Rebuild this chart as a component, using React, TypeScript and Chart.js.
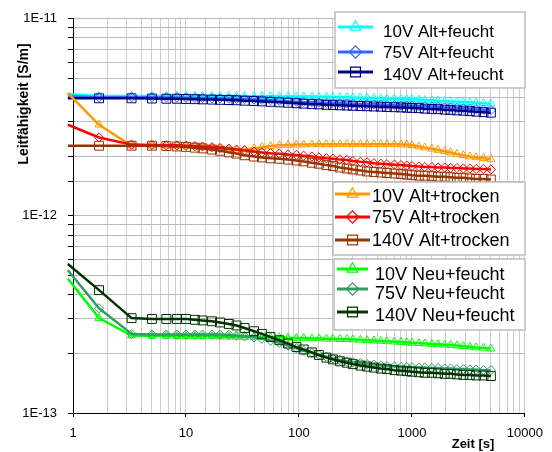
import React, { useEffect, useRef } from 'react';
import { Chart, registerables } from 'chart.js';

Chart.register(...registerables);

// Zeit [s]
const TIMES = [
  0.9, 1.7, 3.3, 5, 6.7, 8.3, 10,
  12, 14, 17, 20, 24, 28, 33,
  40, 47, 56, 67, 80, 95, 110,
  130, 150, 175, 200, 230, 265, 300,
  350, 400, 460, 530, 600, 700, 800,
  900, 1000, 1150, 1300, 1500, 1700, 1950,
  2200, 2500, 2850, 3250, 3700, 4300, 5000,
];

// Alt series in 1E-12 S/m
const ALT_FEUCHT_10V = [
  4.15, 4.06, 4.06, 4.06, 4.06, 4.06, 4.06,
  4.06, 4.06, 4.06, 4.06, 4.06, 4.05, 4.05,
  4.05, 4.05, 4.05, 4.04, 4.04, 4.04, 4.03,
  4.03, 4.02, 4.02, 4.01, 4.0, 4.0, 3.99,
  3.98, 3.97, 3.96, 3.95, 3.94, 3.93, 3.92,
  3.91, 3.9, 3.89, 3.87, 3.86, 3.84, 3.83,
  3.81, 3.8, 3.78, 3.77, 3.75, 3.73, 3.71,
];
const ALT_FEUCHT_75V = [
  4.05, 4.0, 4.0, 4.0, 3.99, 3.99, 3.98,
  3.97, 3.96, 3.95, 3.94, 3.93, 3.92, 3.91,
  3.9, 3.88, 3.86, 3.84, 3.82, 3.8, 3.78,
  3.77, 3.76, 3.75, 3.74, 3.73, 3.72, 3.71,
  3.7, 3.69, 3.68, 3.67, 3.66, 3.65, 3.64,
  3.63, 3.62, 3.61, 3.6, 3.59, 3.58, 3.56,
  3.55, 3.53, 3.52, 3.5, 3.48, 3.46, 3.44,
];
const ALT_FEUCHT_140V = [
  3.95, 3.95, 3.95, 3.94, 3.93, 3.93, 3.92,
  3.91, 3.9, 3.89, 3.88, 3.87, 3.86, 3.84,
  3.83, 3.81, 3.79, 3.77, 3.75, 3.73, 3.71,
  3.69, 3.68, 3.66, 3.65, 3.64, 3.63, 3.62,
  3.61, 3.6, 3.59, 3.58, 3.57, 3.56, 3.55,
  3.54, 3.53, 3.52, 3.5, 3.49, 3.48, 3.46,
  3.45, 3.43, 3.42, 3.4, 3.38, 3.36, 3.34,
];
const ALT_TROCKEN_10V = [
  4.2, 2.9, 2.27, 2.27, 2.27, 2.27, 2.26,
  2.25, 2.24, 2.22, 2.2, 2.17, 2.16, 2.17,
  2.2, 2.23, 2.26, 2.28, 2.29, 2.3, 2.3,
  2.3, 2.31, 2.31, 2.31, 2.31, 2.31, 2.31,
  2.31, 2.31, 2.31, 2.31, 2.31, 2.31, 2.3,
  2.3, 2.28, 2.25, 2.22, 2.19, 2.16, 2.13,
  2.1, 2.06, 2.03, 2.0, 1.98, 1.96, 1.94,
];
const ALT_TROCKEN_75V = [
  2.9, 2.5, 2.3, 2.29, 2.28, 2.28, 2.27,
  2.26, 2.25, 2.23, 2.21, 2.19, 2.17, 2.15,
  2.12, 2.1, 2.08, 2.07, 2.05, 2.04, 2.02,
  2.0, 1.98, 1.96, 1.95, 1.93, 1.92, 1.9,
  1.88, 1.87, 1.85, 1.84, 1.83, 1.82, 1.81,
  1.8, 1.79, 1.78, 1.77, 1.77, 1.76, 1.76,
  1.75, 1.75, 1.74, 1.74, 1.73, 1.73, 1.72,
];
const ALT_TROCKEN_140V = [
  2.27, 2.27, 2.27, 2.27, 2.26, 2.25, 2.24,
  2.22, 2.2, 2.17, 2.14, 2.1, 2.07, 2.03,
  2.0, 1.98, 1.96, 1.95, 1.93, 1.91, 1.89,
  1.86, 1.84, 1.81, 1.79, 1.76, 1.74, 1.72,
  1.7, 1.68, 1.67, 1.66, 1.65, 1.64, 1.63,
  1.62, 1.61, 1.6, 1.6, 1.59, 1.58, 1.58,
  1.57, 1.56, 1.56, 1.55, 1.54, 1.54, 1.53,
];
// Neu series in 1E-13 S/m
const NEU_FEUCHT_10V = [
  4.8, 3.03, 2.47, 2.46, 2.46, 2.45, 2.45,
  2.45, 2.45, 2.45, 2.44, 2.44, 2.44, 2.43,
  2.43, 2.43, 2.42, 2.42, 2.41, 2.4, 2.4,
  2.39, 2.39, 2.38, 2.38, 2.37, 2.37, 2.36,
  2.35, 2.34, 2.33, 2.32, 2.31, 2.3, 2.29,
  2.28, 2.27, 2.26, 2.25, 2.24, 2.23, 2.22,
  2.21, 2.2, 2.18, 2.17, 2.15, 2.14, 2.12,
];
const NEU_FEUCHT_75V = [
  5.3, 3.4, 2.52, 2.5, 2.5, 2.5, 2.5,
  2.5, 2.5, 2.5, 2.5, 2.49, 2.47, 2.45,
  2.42, 2.38, 2.33, 2.27, 2.2, 2.13, 2.07,
  2.02, 1.97, 1.93, 1.89, 1.86, 1.83, 1.81,
  1.79, 1.77, 1.76, 1.74, 1.73, 1.72, 1.71,
  1.71, 1.71, 1.7, 1.7, 1.69, 1.69, 1.68,
  1.68, 1.67, 1.67, 1.66, 1.66, 1.65, 1.65,
];
const NEU_FEUCHT_140V = [
  5.7, 4.2, 3.03, 3.0, 3.0, 3.0, 3.0,
  2.97, 2.95, 2.92, 2.88, 2.83, 2.78, 2.7,
  2.6, 2.52, 2.43, 2.34, 2.25, 2.16, 2.1,
  2.03, 1.97, 1.91, 1.87, 1.83, 1.8, 1.77,
  1.74, 1.72, 1.7, 1.68, 1.67, 1.65, 1.64,
  1.63, 1.62, 1.61, 1.6, 1.6, 1.59, 1.58,
  1.58, 1.57, 1.56, 1.56, 1.55, 1.55, 1.54,
];

const ALT_UNIT = 1e-12;
const NEU_UNIT = 1e-13;

const X_TICK_LABELS = ['1', '10', '100', '1000', '10000'];
const Y_TICK_LABELS = ['1E-13', '1E-12', '1E-11'];
const X_TITLE = 'Zeit [s]';
const Y_TITLE = 'Leitfähigkeit [S/m]';

const FONT = '"Liberation Sans", Arial, sans-serif';

type Marker = 'triangle' | 'rectRot' | 'rect';
const SERIES: { label: string; values: number[]; unit: number; color: string; marker: Marker }[] = [
  { label: '10V Alt+feucht', values: ALT_FEUCHT_10V, unit: ALT_UNIT, color: '#00ffff', marker: 'triangle' },
  { label: '75V Alt+feucht', values: ALT_FEUCHT_75V, unit: ALT_UNIT, color: '#3366ff', marker: 'rectRot' },
  { label: '140V Alt+feucht', values: ALT_FEUCHT_140V, unit: ALT_UNIT, color: '#000080', marker: 'rect' },
  { label: '10V Alt+trocken', values: ALT_TROCKEN_10V, unit: ALT_UNIT, color: '#ff9900', marker: 'triangle' },
  { label: '75V Alt+trocken', values: ALT_TROCKEN_75V, unit: ALT_UNIT, color: '#ff0000', marker: 'rectRot' },
  { label: '140V Alt+trocken', values: ALT_TROCKEN_140V, unit: ALT_UNIT, color: '#993300', marker: 'rect' },
  { label: '10V Neu+feucht', values: NEU_FEUCHT_10V, unit: NEU_UNIT, color: '#00ff00', marker: 'triangle' },
  { label: '75V Neu+feucht', values: NEU_FEUCHT_75V, unit: NEU_UNIT, color: '#339966', marker: 'rectRot' },
  { label: '140V Neu+feucht', values: NEU_FEUCHT_140V, unit: NEU_UNIT, color: '#003300', marker: 'rect' },
];

const MARKER_RADIUS: Record<Marker, number> = { triangle: 4.6, rectRot: 4.6, rect: 6.3 };

// legend layout (three boxes)
const LEGEND_BOXES = [
  { x: 335, y: 12, w: 190, h: 76, size: 17, x1: 338, x2: 373, tx: 383, rows: [
    { s: 0, ly: 27, by: 37 }, { s: 1, ly: 52, by: 58 }, { s: 2, ly: 72, by: 80 } ] },
  { x: 333, y: 182, w: 192, h: 73, size: 18, x1: 335, x2: 370, tx: 372, rows: [
    { s: 3, ly: 194, by: 202 }, { s: 4, ly: 217, by: 223 }, { s: 5, ly: 240, by: 246 } ] },
  { x: 334, y: 259, w: 191, h: 71, size: 18, x1: 337, x2: 368, tx: 375, rows: [
    { s: 6, ly: 269, by: 280 }, { s: 7, ly: 289, by: 299 }, { s: 8, ly: 312, by: 321 } ] },
];

function isPow10(v: number) {
  const e = Math.log10(v);
  return Math.abs(e - Math.round(e)) < 1e-6;
}

function drawMarker(ctx: CanvasRenderingContext2D, m: Marker, x: number, y: number, r: number) {
  ctx.beginPath();
  if (m === 'triangle') {
    ctx.moveTo(x, y - r);
    ctx.lineTo(x + r * 0.866, y + r * 0.5);
    ctx.lineTo(x - r * 0.866, y + r * 0.5);
    ctx.closePath();
  } else if (m === 'rectRot') {
    ctx.moveTo(x, y - r);
    ctx.lineTo(x + r, y);
    ctx.lineTo(x, y + r);
    ctx.lineTo(x - r, y);
    ctx.closePath();
  } else {
    const h = r * Math.SQRT1_2;
    ctx.rect(x - h, y - h, 2 * h, 2 * h);
  }
  ctx.stroke();
}

const overlayPlugin = {
  id: 'overlay',
  afterDraw(chart: any) {
    const ctx: CanvasRenderingContext2D = chart.ctx;
    ctx.save();
    ctx.fillStyle = '#000';
    ctx.font = `bold 13px ${FONT}`;
    ctx.textAlign = 'center';
    ctx.textBaseline = 'middle';
    ctx.fillText(X_TITLE, 473, 444);
    ctx.save();
    ctx.translate(24, 104);
    ctx.rotate(-Math.PI / 2);
    ctx.font = `bold 14px ${FONT}`;
    ctx.fillText(Y_TITLE, 0, 0);
    ctx.restore();

    for (const box of LEGEND_BOXES) {
      ctx.fillStyle = '#ffffff';
      ctx.fillRect(box.x, box.y, box.w, box.h);
      ctx.strokeStyle = '#bdbdbd';
      ctx.lineWidth = 1.5;
      ctx.strokeRect(box.x, box.y, box.w, box.h);
      for (const row of box.rows) {
        const s = SERIES[row.s];
        ctx.strokeStyle = s.color;
        ctx.lineWidth = 3;
        ctx.beginPath();
        ctx.moveTo(box.x1, row.ly);
        ctx.lineTo(box.x2, row.ly);
        ctx.stroke();
        ctx.lineWidth = 1.2;
        const mx = (box.x1 + box.x2) / 2;
        drawMarker(ctx, s.marker, mx, row.ly, s.marker === 'rect' ? 7 : 6.2);
        ctx.fillStyle = '#000';
        ctx.font = `${box.size}px ${FONT}`;
        ctx.textAlign = 'left';
        ctx.textBaseline = 'alphabetic';
        ctx.fillText(s.label, box.tx, row.by);
      }
    }
    ctx.restore();
  },
};

export default function App() {
  const ref = useRef<HTMLCanvasElement>(null);
  useEffect(() => {
    if (!ref.current) return;
    const n = SERIES.length;
    const chart = new Chart(ref.current, {
      type: 'line',
      data: {
        datasets: SERIES.map((s, i) => ({
          label: s.label,
          data: TIMES.map((t, k) => ({ x: t, y: s.values[k] * s.unit })),
          borderColor: s.color,
          backgroundColor: 'rgba(0,0,0,0)',
          borderWidth: 2.5,
          pointStyle: s.marker,
          pointRadius: (c: any) => (c.dataIndex === 0 ? 0 : MARKER_RADIUS[s.marker]),
          pointBorderColor: s.color,
          pointBackgroundColor: 'rgba(0,0,0,0)',
          pointBorderWidth: 1,
          tension: 0,
          clip: false as any,
          order: n - i,
        })),
      },
      options: {
        responsive: false,
        animation: false,
        devicePixelRatio: 1,
        layout: { padding: { top: 15, right: 27, left: 0, bottom: 0 } },
        plugins: { legend: { display: false }, tooltip: { enabled: false } },
        scales: {
          x: {
            type: 'logarithmic',
            min: 1,
            max: 10000,
            afterFit: (s: any) => { s.height = 39; },
            border: { color: '#000', width: 1 },
            grid: {
              color: '#cdcdcd',
              lineWidth: 1,
              tickLength: 4,
              tickColor: (c: any) => (c.tick && isPow10(c.tick.value) ? '#000' : 'rgba(0,0,0,0)'),
            },
            ticks: {
              autoSkip: false,
              maxRotation: 0,
              minRotation: 0,
              padding: 9,
              color: '#000',
              font: { family: FONT, size: 13 },
              callback: (v: any) => (isPow10(Number(v)) ? X_TICK_LABELS[Math.round(Math.log10(Number(v)))] : ''),
            },
          },
          y: {
            type: 'logarithmic',
            min: 1e-13,
            max: 1e-11,
            afterFit: (s: any) => { s.width = 73; },
            border: { color: '#000', width: 1 },
            grid: {
              color: '#b9b9b9',
              lineWidth: 1,
              tickLength: 5,
              tickColor: '#000',
            },
            ticks: {
              autoSkip: false,
              padding: 11,
              color: '#000',
              font: { family: FONT, size: 13 },
              callback: (v: any) => (isPow10(Number(v)) ? Y_TICK_LABELS[Math.round(Math.log10(Number(v))) + 13] : ''),
            },
          },
        },
      },
      plugins: [overlayPlugin],
    } as any);
    return () => chart.destroy();
  }, []);
  return (
    <div style={{ position: 'fixed', left: 0, top: 0, width: 552, height: 452, background: '#fff' }}>
      <canvas ref={ref} width={552} height={452} style={{ width: 552, height: 452, display: 'block' }} />
    </div>
  );
}
